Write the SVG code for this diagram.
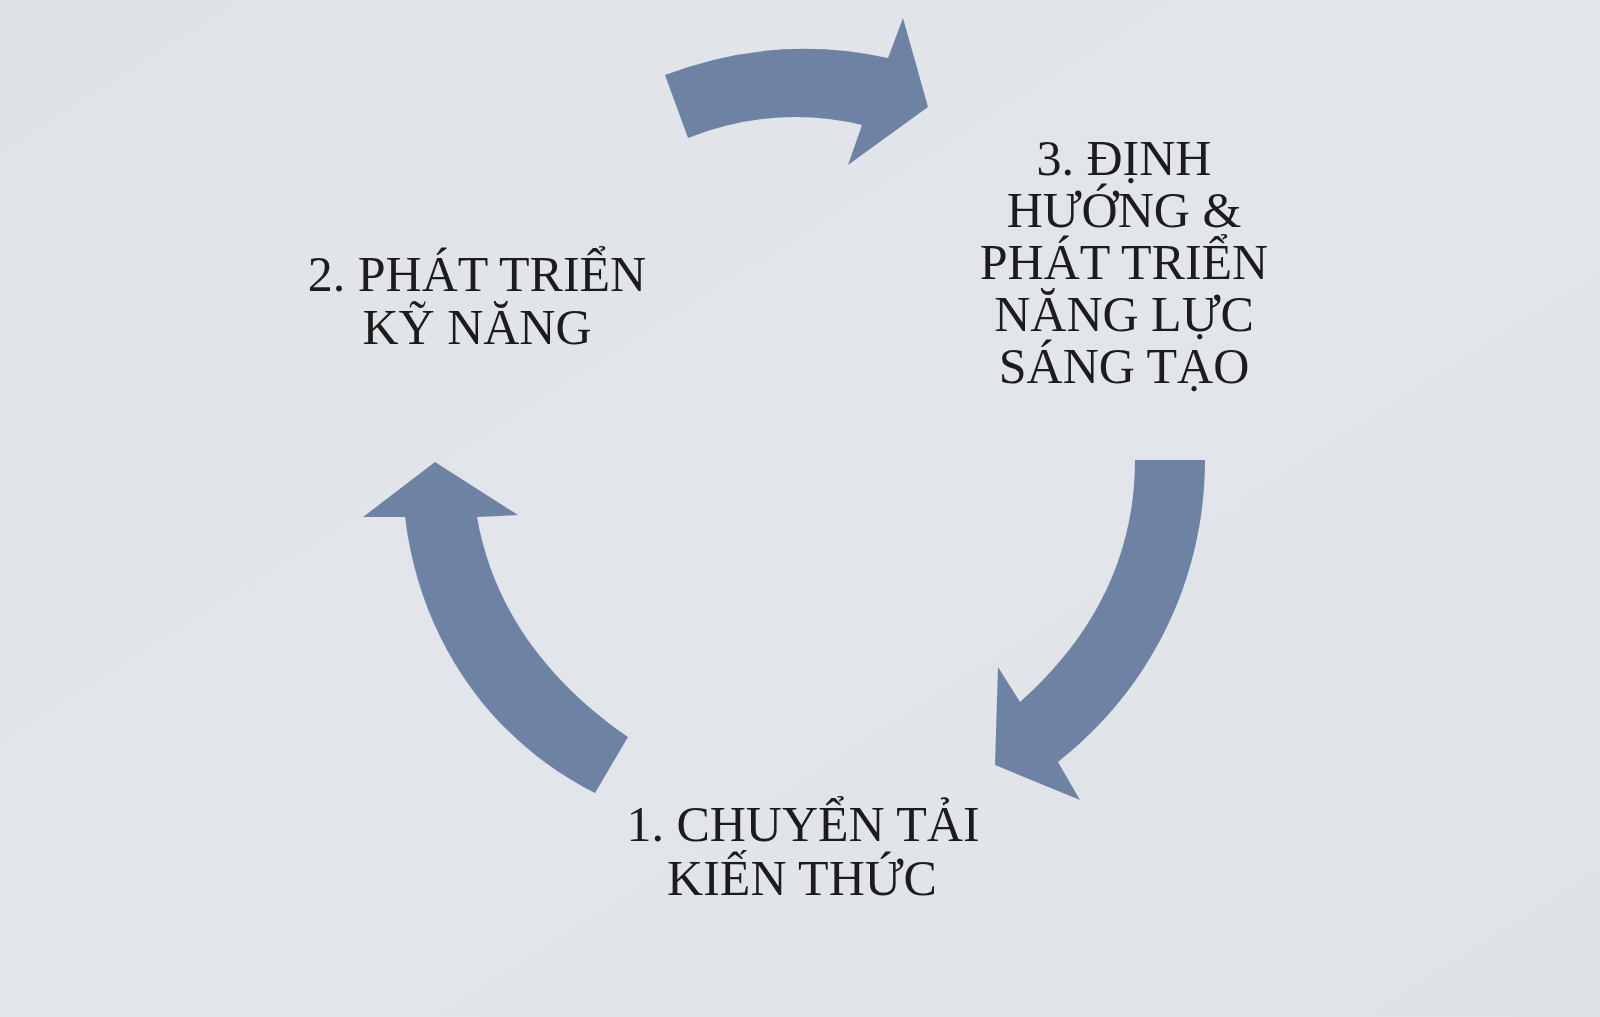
<svg xmlns="http://www.w3.org/2000/svg" width="1600" height="1017" viewBox="0 0 1600 1017">
<defs>
<style>
.arrow{fill:#6e82a4;}
.lbl{font-family:"Liberation Serif","Times New Roman",serif;font-size:50px;fill:#1c1c1c;text-anchor:middle;}
</style>
<linearGradient id="bg" x1="0" y1="0" x2="1" y2="1">
<stop offset="0" stop-color="#dfe2e7"/>
<stop offset="0.5" stop-color="#e2e5ea"/>
<stop offset="1" stop-color="#dfe2e7"/>
</linearGradient>
</defs>
<rect x="0" y="0" width="1600" height="1017" fill="url(#bg)"/>
<g id="connectors">
<path id="arrow-2-3" class="arrow" d="M665,75 Q776,33 888,58 L903,18 L928,107 L848,165 L862,125 Q775,104 688,138 Z"/>
<path id="arrow-3-1" class="arrow" d="M1135,460 L1205,460 C1205,580 1150,690 1058,762 L1080,800 L995,765 L998,667 L1020,702 C1090,640 1135,560 1135,460 Z"/>
<path id="arrow-1-2" class="arrow" d="M595,793 C490,740 420,640 405,517 L363,517 L435,462 L518,515 L477,517 C495,620 560,690 628,737 Z"/>
</g>
<g id="node-1">
<text class="lbl" x="803" y="841">1. CHUYỂN TẢI</text>
<text class="lbl" x="802" y="895">KIẾN THỨC</text>
</g>
<g id="node-2">
<text class="lbl" x="477" y="291">2. PHÁT TRIỂN</text>
<text class="lbl" x="477" y="344">KỸ NĂNG</text>
</g>
<g id="node-3">
<text class="lbl" x="1124" y="175">3. ĐỊNH</text>
<text class="lbl" x="1124" y="227">HƯỚNG &amp;</text>
<text class="lbl" x="1124" y="279">PHÁT TRIỂN</text>
<text class="lbl" x="1124" y="331">NĂNG LỰC</text>
<text class="lbl" x="1124" y="383">SÁNG TẠO</text>
</g>
</svg>
